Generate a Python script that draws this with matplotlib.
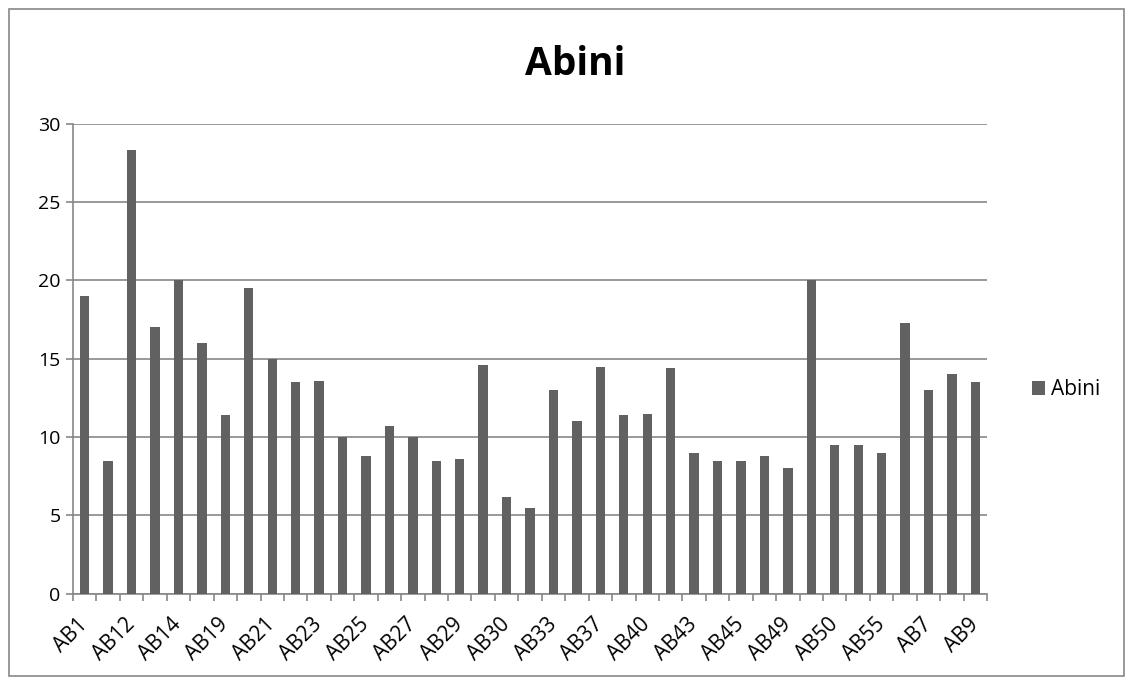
import matplotlib.pyplot as plt
import numpy as np
from matplotlib.patches import Rectangle
from matplotlib.transforms import ScaledTranslation

plt.rcParams['font.family'] = ['Open Sans', 'DejaVu Sans']

# values
abini = [19, 8.5, 28.3, 17, 20, 16, 11.4, 19.5, 15, 13.5, 13.6, 10, 8.8, 10.7,
         10, 8.5, 8.6, 14.6, 6.2, 5.5, 13, 11, 14.5, 11.4, 11.5, 14.4, 9,
         8.5, 8.5, 8.8, 8, 20, 9.5, 9.5, 9, 17.3, 13, 14, 13.5]
shown_labels = ['AB1', 'AB12', 'AB14', 'AB19', 'AB21', 'AB23', 'AB25', 'AB27',
                'AB29', 'AB30', 'AB33', 'AB37', 'AB40', 'AB43', 'AB45', 'AB49',
                'AB50', 'AB55', 'AB7', 'AB9']
yticks = [0, 5, 10, 15, 20, 25, 30]

fig = plt.figure(figsize=(11.32, 6.84), dpi=100)
ax = fig.add_axes([0.0645, 0.132, 0.8075, 0.687])

x = np.arange(len(abini))
ax.bar(x, abini, width=0.4, color='#616161', label='Abini', zorder=3)

ax.set_xlim(-0.5, len(abini) - 0.5)
ax.set_ylim(0, 30)
ax.set_yticks(yticks)
ax.yaxis.grid(True, color='#878787', linewidth=1.2, zorder=0)

ax.set_xticks(x[::2])
ax.set_xticklabels(shown_labels, rotation=45, ha='right', va='center',
                   rotation_mode='anchor', fontsize=15)
shift = ScaledTranslation(3 / 100, 0, fig.dpi_scale_trans)
for lab in ax.get_xticklabels():
    lab.set_transform(lab.get_transform() + shift)
ax.set_xticks(np.arange(-0.5, len(abini)), minor=True)
ax.tick_params(axis='x', which='major', length=0, pad=20)
ax.tick_params(axis='x', which='minor', length=5, color='#878787', width=1.2)
ax.tick_params(axis='y', length=5, color='#878787', width=1.2, labelsize=14, pad=4)

for s in ['top', 'right']:
    ax.spines[s].set_visible(False)
for s in ['left', 'bottom']:
    ax.spines[s].set_color('#878787')
    ax.spines[s].set_linewidth(1.2)

fig.text(0.508, 1 - 75 / 684, 'Abini', ha='center', va='baseline',
         fontsize=28, fontweight='bold')

fig.legend(loc='center left', bbox_to_anchor=(0.912, 0.43), frameon=False,
           fontsize=15, handlelength=0.6, handleheight=0.6, handletextpad=0.3,
           borderpad=0, borderaxespad=0)

fig.patches.append(Rectangle((0.008, 0.012), 0.985, 0.975, transform=fig.transFigure,
                             fill=False, edgecolor='#878787', linewidth=1.2))

fig.savefig('out.png', dpi=100)
